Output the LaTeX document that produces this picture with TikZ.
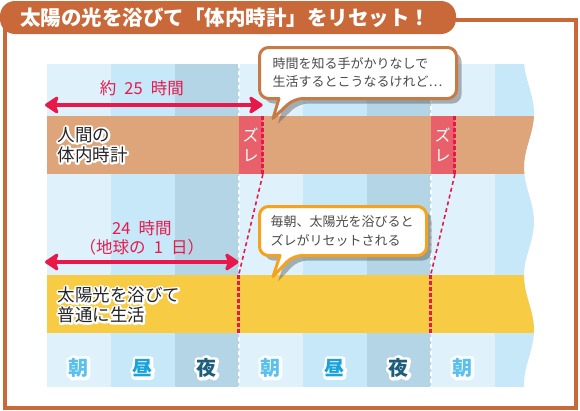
\documentclass[tikz,border=0pt]{standalone}
\usepackage{fontspec}
\setmainfont{Noto Sans CJK JP}
\newfontfamily\spanfont{Noto Sans CJK JP}[WordSpace=2.2]
\usetikzlibrary{arrows.meta,shadows}

% white outline drawn under the text
\newcommand\halo[2]{\leavevmode\rlap{\color{white}\special{pdf:literal direct 1 j #1 w 2 Tr}#2\special{pdf:literal direct 0 Tr}}#2}

\definecolor{frame}{HTML}{C9693A}
\definecolor{morning}{HTML}{DFF2FC}
\definecolor{noon}{HTML}{C7E8F8}
\definecolor{night}{HTML}{B4D5E5}
\definecolor{bodyband}{HTML}{DFA57A}
\definecolor{sunband}{HTML}{F7CB44}
\definecolor{gap}{HTML}{E8606A}
\definecolor{pinkred}{HTML}{E8194A}
\definecolor{noteedge}{HTML}{C87A45}
\definecolor{resetedge}{HTML}{F5A21F}
\definecolor{morningtxt}{HTML}{5AC0EC}
\definecolor{noontxt}{HTML}{1AA3DA}
\definecolor{nighttxt}{HTML}{1D5E7C}
\definecolor{textgray}{HTML}{4A4A4A}

\begin{document}
\begin{tikzpicture}[x=1pt, y=-1pt,
    span/.style={{Stealth[length=16pt,width=21pt,inset=4pt,round]}-{Stealth[length=16pt,width=21pt,inset=4pt,round]}, line width=4pt, pinkred},
    spanlabel/.style={text=pinkred, font=\spanfont\fontsize{16.5}{19}\selectfont, align=center},
    bandtext/.style={anchor=west, align=left, text=black!85, font=\fontsize{17.5}{20}\selectfont},
    gapbox/.style={fill=gap, text=white, minimum width=24pt, minimum height=58pt, inner sep=0pt, align=center, font=\fontsize{16}{20}\selectfont},
    shiftline/.style={pinkred, line width=3pt, dash pattern=on 4pt off 2pt},
    driftline/.style={pinkred, line width=1.6pt, dash pattern=on 4pt off 3pt},
    daymark/.style={white, line width=2pt, dash pattern=on 4pt off 3pt},
    bubble/.style={fill=white, line width=3pt, line join=round, drop shadow={shadow xshift=5pt, shadow yshift=-5pt, opacity=0.45, fill=black!65}},
    notetext/.style={anchor=west, align=left, text=textgray, font=\fontsize{13}{18.5}\selectfont},
    daylabel/.style={font=\fontsize{20}{20}\selectfont\bfseries}
  ]
  \useasboundingbox (0,0) rectangle (580,410);

  % columns and bands, cut off by the wavy edge
  \begin{scope}
    \clip (46.7,64) -- plot[domain=64:387, samples=80, smooth] ({529-5*cos((\x-59)*3.318)}, \x) -- (46.7,387) -- cycle;
    \foreach \i/\c in {0/morning,1/noon,2/night,3/morning,4/noon,5/night,6/morning,7/noon}
      \fill[\c] ({46.7+64*\i},64) rectangle ++(64,323);
    \foreach \x in {238.7,430.7}
      \draw[daymark] (\x,64) -- (\x,387);
    \fill[bodyband] (46.7,116) rectangle (560,174);
    \fill[sunband] (46.7,275) rectangle (560,333);
  \end{scope}

  % drift boxes
  \node[gapbox] (gap1) at (250.7,145) {ズ\\レ};
  \node[gapbox] (gap2) at (442.7,145) {ズ\\レ};
  \coordinate (reset1a) at (238.7,275);
  \coordinate (reset1b) at (238.7,333);
  \coordinate (reset2a) at (430.7,275);
  \coordinate (reset2b) at (430.7,333);
  \draw[shiftline] (gap1.north east) -- (gap1.south east);
  \draw[driftline] (gap1.south east) -- (reset1a);
  \draw[shiftline] (reset1a) -- (reset1b);
  \draw[shiftline] (gap2.north east) -- (gap2.south east);
  \draw[driftline] (gap2.south east) -- (reset2a);
  \draw[shiftline] (reset2a) -- (reset2b);

  % arrows
  \coordinate (long0) at (45,105);
  \coordinate (long1) at (262.7,105);
  \coordinate (day0) at (45,262);
  \coordinate (day1) at (238.7,262);
  \draw[span] (long0) -- node[spanlabel, pos=0.445, yshift=17pt] (longtxt) {約 25 時間} (long1);
  \draw[span] (day0) -- node[spanlabel, pos=0.5, yshift=24.5pt] (daytxt) {24 時間\\（地球の 1 日）} (day1);

  % speech bubbles
  \draw[bubble, draw=noteedge] (259.5,70) [rounded corners=9pt] -- (259.5,47.5) -- (456.5,47.5) -- (456.5,98.5) -- (294,98.5) [sharp corners] -- (273,118.5) -- (279,98.5) [rounded corners=9pt] -- (259.5,98.5) -- cycle;
  \node[notetext] (hint1) at (269,72.5) {時間を知る手がかりなしで\\生活するとこうなるけれど…};
  \draw[bubble, draw=resetedge] (259.5,230) [rounded corners=9pt] -- (259.5,206.5) -- (426.5,206.5) -- (426.5,255.5) -- (293,255.5) [sharp corners] -- (273,276.5) -- (280,255.5) [rounded corners=9pt] -- (259.5,255.5) -- cycle;
  \node[notetext] (hint2) at (267,231) {毎朝、太陽光を浴びると\\ズレがリセットされる};

  % band labels
  \node[bandtext] (bodyclock) at (54,145) {\halo{4}{人間の}\\\halo{4}{体内時計}};
  \node[bandtext] (sunlife) at (54,305) {\halo{4}{太陽光を浴びて}\\\halo{4}{普通に生活}};

  % time of day
  \foreach \i/\t/\c in {0/朝/morningtxt,1/昼/noontxt,2/夜/nighttxt,3/朝/morningtxt,4/昼/noontxt,5/夜/nighttxt,6/朝/morningtxt}
    \node[daylabel, text=\c] (time\i) at ({78.7+64*\i},368) {\halo{6}{\t}};

  % frame and title
  \draw[frame, line width=4pt] (456,20) -- (575.5,20) -- (575.5,407.5) -- (4.5,407.5) -- (4.5,25);
  \fill[frame, rounded corners=15pt] (0,1) rectangle (456,34);
  \node[text=white, font=\fontsize{20.5}{24}\selectfont\bfseries] (title) at (225,18) {太陽の光を浴びて「体内時計」をリセット！};
\end{tikzpicture}
\end{document}
